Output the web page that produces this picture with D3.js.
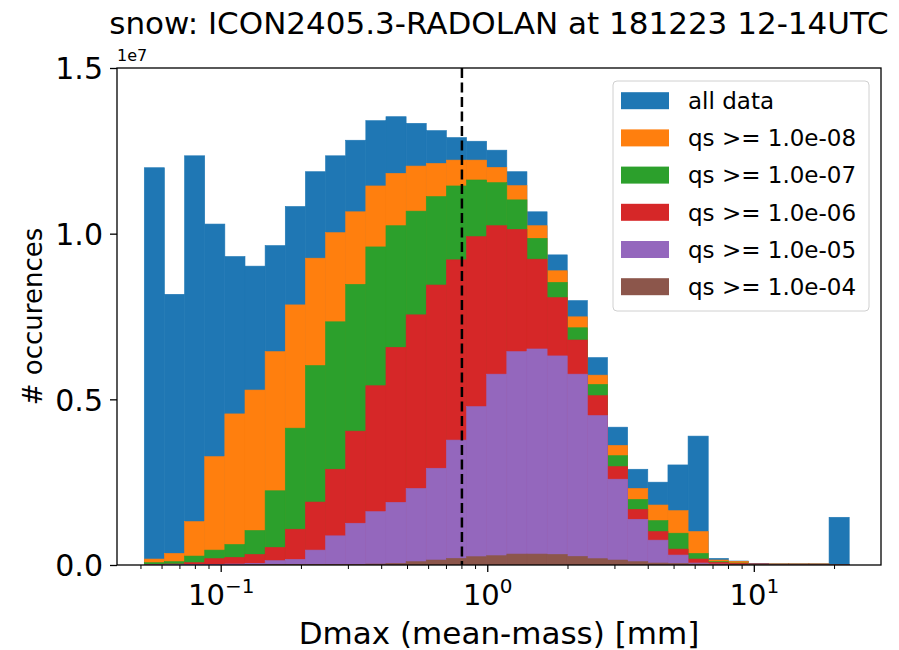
<!DOCTYPE html>
<html>
<head>
<meta charset="utf-8">
<script src="https://cdn.jsdelivr.net/npm/d3@7"></script>
<style>
  body { margin: 0; background: #fff; }
  svg { display: block; }
  text { font-family: "DejaVu Sans", sans-serif; fill: #000; }
</style>
</head>
<body>
<svg id="chart" width="899" height="650"></svg>
<script>
// ---- data (counts in units of 1e7) ----
const binLo = 0.05146;   // first bin edge [mm]
const binHi = 22.70;     // last bin edge [mm]
const nBins = 35;        // log-spaced bins

const seriesNames = ["all data", "qs >= 1.0e-08", "qs >= 1.0e-07", "qs >= 1.0e-06", "qs >= 1.0e-05", "qs >= 1.0e-04"];
const seriesColors = ["#1f77b4", "#ff7f0e", "#2ca02c", "#d62728", "#9467bd", "#8c564b"];

const allData = [1.199, 0.817, 1.235, 1.029, 0.931, 0.902, 0.964, 1.082, 1.187, 1.235,
                 1.282, 1.341, 1.353, 1.333, 1.311, 1.290, 1.279, 1.252, 1.187, 1.066,
                 0.936, 0.798, 0.626, 0.416, 0.289, 0.250, 0.302, 0.389, 0.020, 0.012,
                 0.005, 0.003, 0.003, 0.003, 0.144];
const qs1e8 = [0.018, 0.035, 0.131, 0.327, 0.456, 0.528, 0.644, 0.785, 0.926, 1.003,
               1.066, 1.144, 1.182, 1.204, 1.212, 1.222, 1.222, 1.200, 1.145, 1.024,
               0.888, 0.749, 0.573, 0.361, 0.231, 0.181, 0.164, 0.101, 0.015, 0.011,
               0.005, 0.003, 0.003, 0.003, 0.002];
const qs1e7 = [0.007, 0.010, 0.027, 0.045, 0.062, 0.104, 0.224, 0.413, 0.602, 0.734,
               0.847, 0.960, 1.024, 1.068, 1.112, 1.144, 1.162, 1.154, 1.102, 0.986,
               0.853, 0.716, 0.545, 0.330, 0.198, 0.134, 0.096, 0.035, 0.010, 0.006,
               0.005, 0.003, 0.003, 0.003, 0.002];
const qs1e6 = [0.002, 0.003, 0.007, 0.019, 0.023, 0.032, 0.053, 0.108, 0.190, 0.289,
               0.404, 0.541, 0.657, 0.755, 0.845, 0.921, 0.991, 1.024, 1.013, 0.923,
               0.807, 0.679, 0.511, 0.297, 0.168, 0.101, 0.048, 0.018, 0.008, 0.005,
               0.005, 0.003, 0.003, 0.003, 0.002];
const qs1e5 = [0.0005, 0.001, 0.001, 0.002, 0.003, 0.005, 0.013, 0.017, 0.045, 0.088,
               0.126, 0.161, 0.189, 0.231, 0.292, 0.377, 0.478, 0.576, 0.644, 0.652,
               0.631, 0.576, 0.451, 0.259, 0.138, 0.075, 0.030, 0.006, 0.003, 0.002,
               0.005, 0.002, 0.002, 0.002, 0.002];
const qs1e4 = [0.000, 0.000, 0.000, 0.000, 0.000, 0.0005, 0.001, 0.001, 0.001, 0.002,
               0.002, 0.003, 0.005, 0.010, 0.015, 0.020, 0.025, 0.028, 0.033, 0.033,
               0.032, 0.026, 0.019, 0.015, 0.010, 0.006, 0.005, 0.003, 0.002, 0.002,
               0.004, 0.001, 0.001, 0.001, 0.001];
const seriesValues = [allData, qs1e8, qs1e7, qs1e6, qs1e5, qs1e4];

const yTicks = [0, 0.5, 1.0, 1.5];
const yTickLabels = ["0.0", "0.5", "1.0", "1.5"];
const xMajorTicks = [0.1, 1, 10];
const xMajorExp = ["−1", "0", "1"];
const dmaxLine = 0.8;

const titleText = "snow: ICON2405.3-RADOLAN at 181223 12-14UTC";
const xLabel = "Dmax (mean-mass) [mm]";
const yLabel = "# occurences";
const offsetText = "1e7";

// ---- layout ----
const W = 899, H = 650;
const m = {left: 117, right: 18, top: 68, bottom: 85};
const pw = W - m.left - m.right, ph = H - m.top - m.bottom;

const svg = d3.select("#chart");

const x = d3.scaleLog().domain([Math.pow(10, -1.3909), Math.pow(10, 1.4753)]).range([m.left, m.left + pw]);
const y = d3.scaleLinear().domain([0, 1.5]).range([m.top + ph, m.top]);

// bin edges (log spaced grid)
const lLo = Math.log10(binLo), lHi = Math.log10(binHi);
const edges = d3.range(nBins + 1).map(i => Math.pow(10, lLo + (lHi - lLo) * i / nBins));

const clipId = "plotclip";
svg.append("defs").append("clipPath").attr("id", clipId)
  .append("rect").attr("x", m.left).attr("y", m.top).attr("width", pw).attr("height", ph);

const plot = svg.append("g").attr("clip-path", `url(#${clipId})`);
seriesValues.forEach((vals, si) => {
  plot.append("g").selectAll("rect").data(vals).join("rect")
    .attr("x", (d, i) => x(edges[i]))
    .attr("width", (d, i) => x(edges[i + 1]) - x(edges[i]))
    .attr("y", d => y(d))
    .attr("height", d => y(0) - y(d))
    .attr("fill", seriesColors[si])
    .attr("stroke", seriesColors[si])
    .attr("stroke-width", 0.6);
});

// dashed vertical line
svg.append("line")
  .attr("x1", x(dmaxLine)).attr("x2", x(dmaxLine))
  .attr("y1", m.top).attr("y2", m.top + ph)
  .attr("stroke", "#000").attr("stroke-width", 2.5)
  .attr("stroke-dasharray", "10,4.5");

// ---- axes ----
const yAxis = d3.axisLeft(y).tickValues(yTicks).tickFormat((d, i) => yTickLabels[i]).tickSize(7).tickPadding(7);
const gy = svg.append("g").attr("transform", `translate(${m.left},0)`).call(yAxis);
gy.select(".domain").remove();
gy.selectAll(".tick line").attr("stroke-width", 1.3);
gy.selectAll(".tick text").style("font-size", "30px").attr("dy", "0.36em");

// x minor ticks
const dom = x.domain();
const minor = [];
for (let e = -2; e <= 1; e++) for (let k = 2; k <= 9; k++) {
  const v = k * Math.pow(10, e);
  if (v >= dom[0] && v <= dom[1]) minor.push(v);
}
const gx = svg.append("g");
gx.selectAll("line.minor").data(minor).join("line")
  .attr("x1", d => x(d)).attr("x2", d => x(d))
  .attr("y1", m.top + ph).attr("y2", m.top + ph + 4)
  .attr("stroke", "#000").attr("stroke-width", 1);
gx.selectAll("line.major").data(xMajorTicks).join("line")
  .attr("x1", d => x(d)).attr("x2", d => x(d))
  .attr("y1", m.top + ph).attr("y2", m.top + ph + 7)
  .attr("stroke", "#000").attr("stroke-width", 1.3);
const xt = gx.selectAll("text.xt").data(xMajorTicks).join("text")
  .attr("x", d => x(d)).attr("y", 605)
  .attr("text-anchor", "middle").style("font-size", "29px");
xt.append("tspan").text("10");
xt.append("tspan").text((d, i) => xMajorExp[i]).style("font-size", "20px").attr("dy", "-12");

// frame
svg.append("rect").attr("x", m.left).attr("y", m.top).attr("width", pw).attr("height", ph)
  .attr("fill", "none").attr("stroke", "#000").attr("stroke-width", 1.3);

// labels
svg.append("text").attr("x", m.left + pw / 2).attr("y", 34).attr("text-anchor", "middle")
  .style("font-size", "31px").text(titleText);
svg.append("text").attr("x", m.left + pw / 2).attr("y", 644).attr("text-anchor", "middle")
  .style("font-size", "31px").text(xLabel);
svg.append("text").attr("transform", `translate(42,${m.top + ph / 2}) rotate(-90)`)
  .attr("text-anchor", "middle").style("font-size", "26px").text(yLabel);
svg.append("text").attr("x", m.left).attr("y", 61).style("font-size", "16px").text(offsetText);

// legend
const lg = svg.append("g");
lg.append("rect").attr("x", 613).attr("y", 81).attr("width", 256).attr("height", 230)
  .attr("rx", 4).attr("fill", "#fff").attr("fill-opacity", 0.8)
  .attr("stroke", "#d0d0d0").attr("stroke-width", 1);
seriesNames.forEach((name, i) => {
  const cy = 100.7 + i * 37.2;
  lg.append("rect").attr("x", 621).attr("y", cy - 8.5).attr("width", 48).attr("height", 17)
    .attr("fill", seriesColors[i]);
  lg.append("text").attr("x", 688).attr("y", cy).attr("dy", "0.36em")
    .style("font-size", "23px").text(name);
});
</script>
</body>
</html>
